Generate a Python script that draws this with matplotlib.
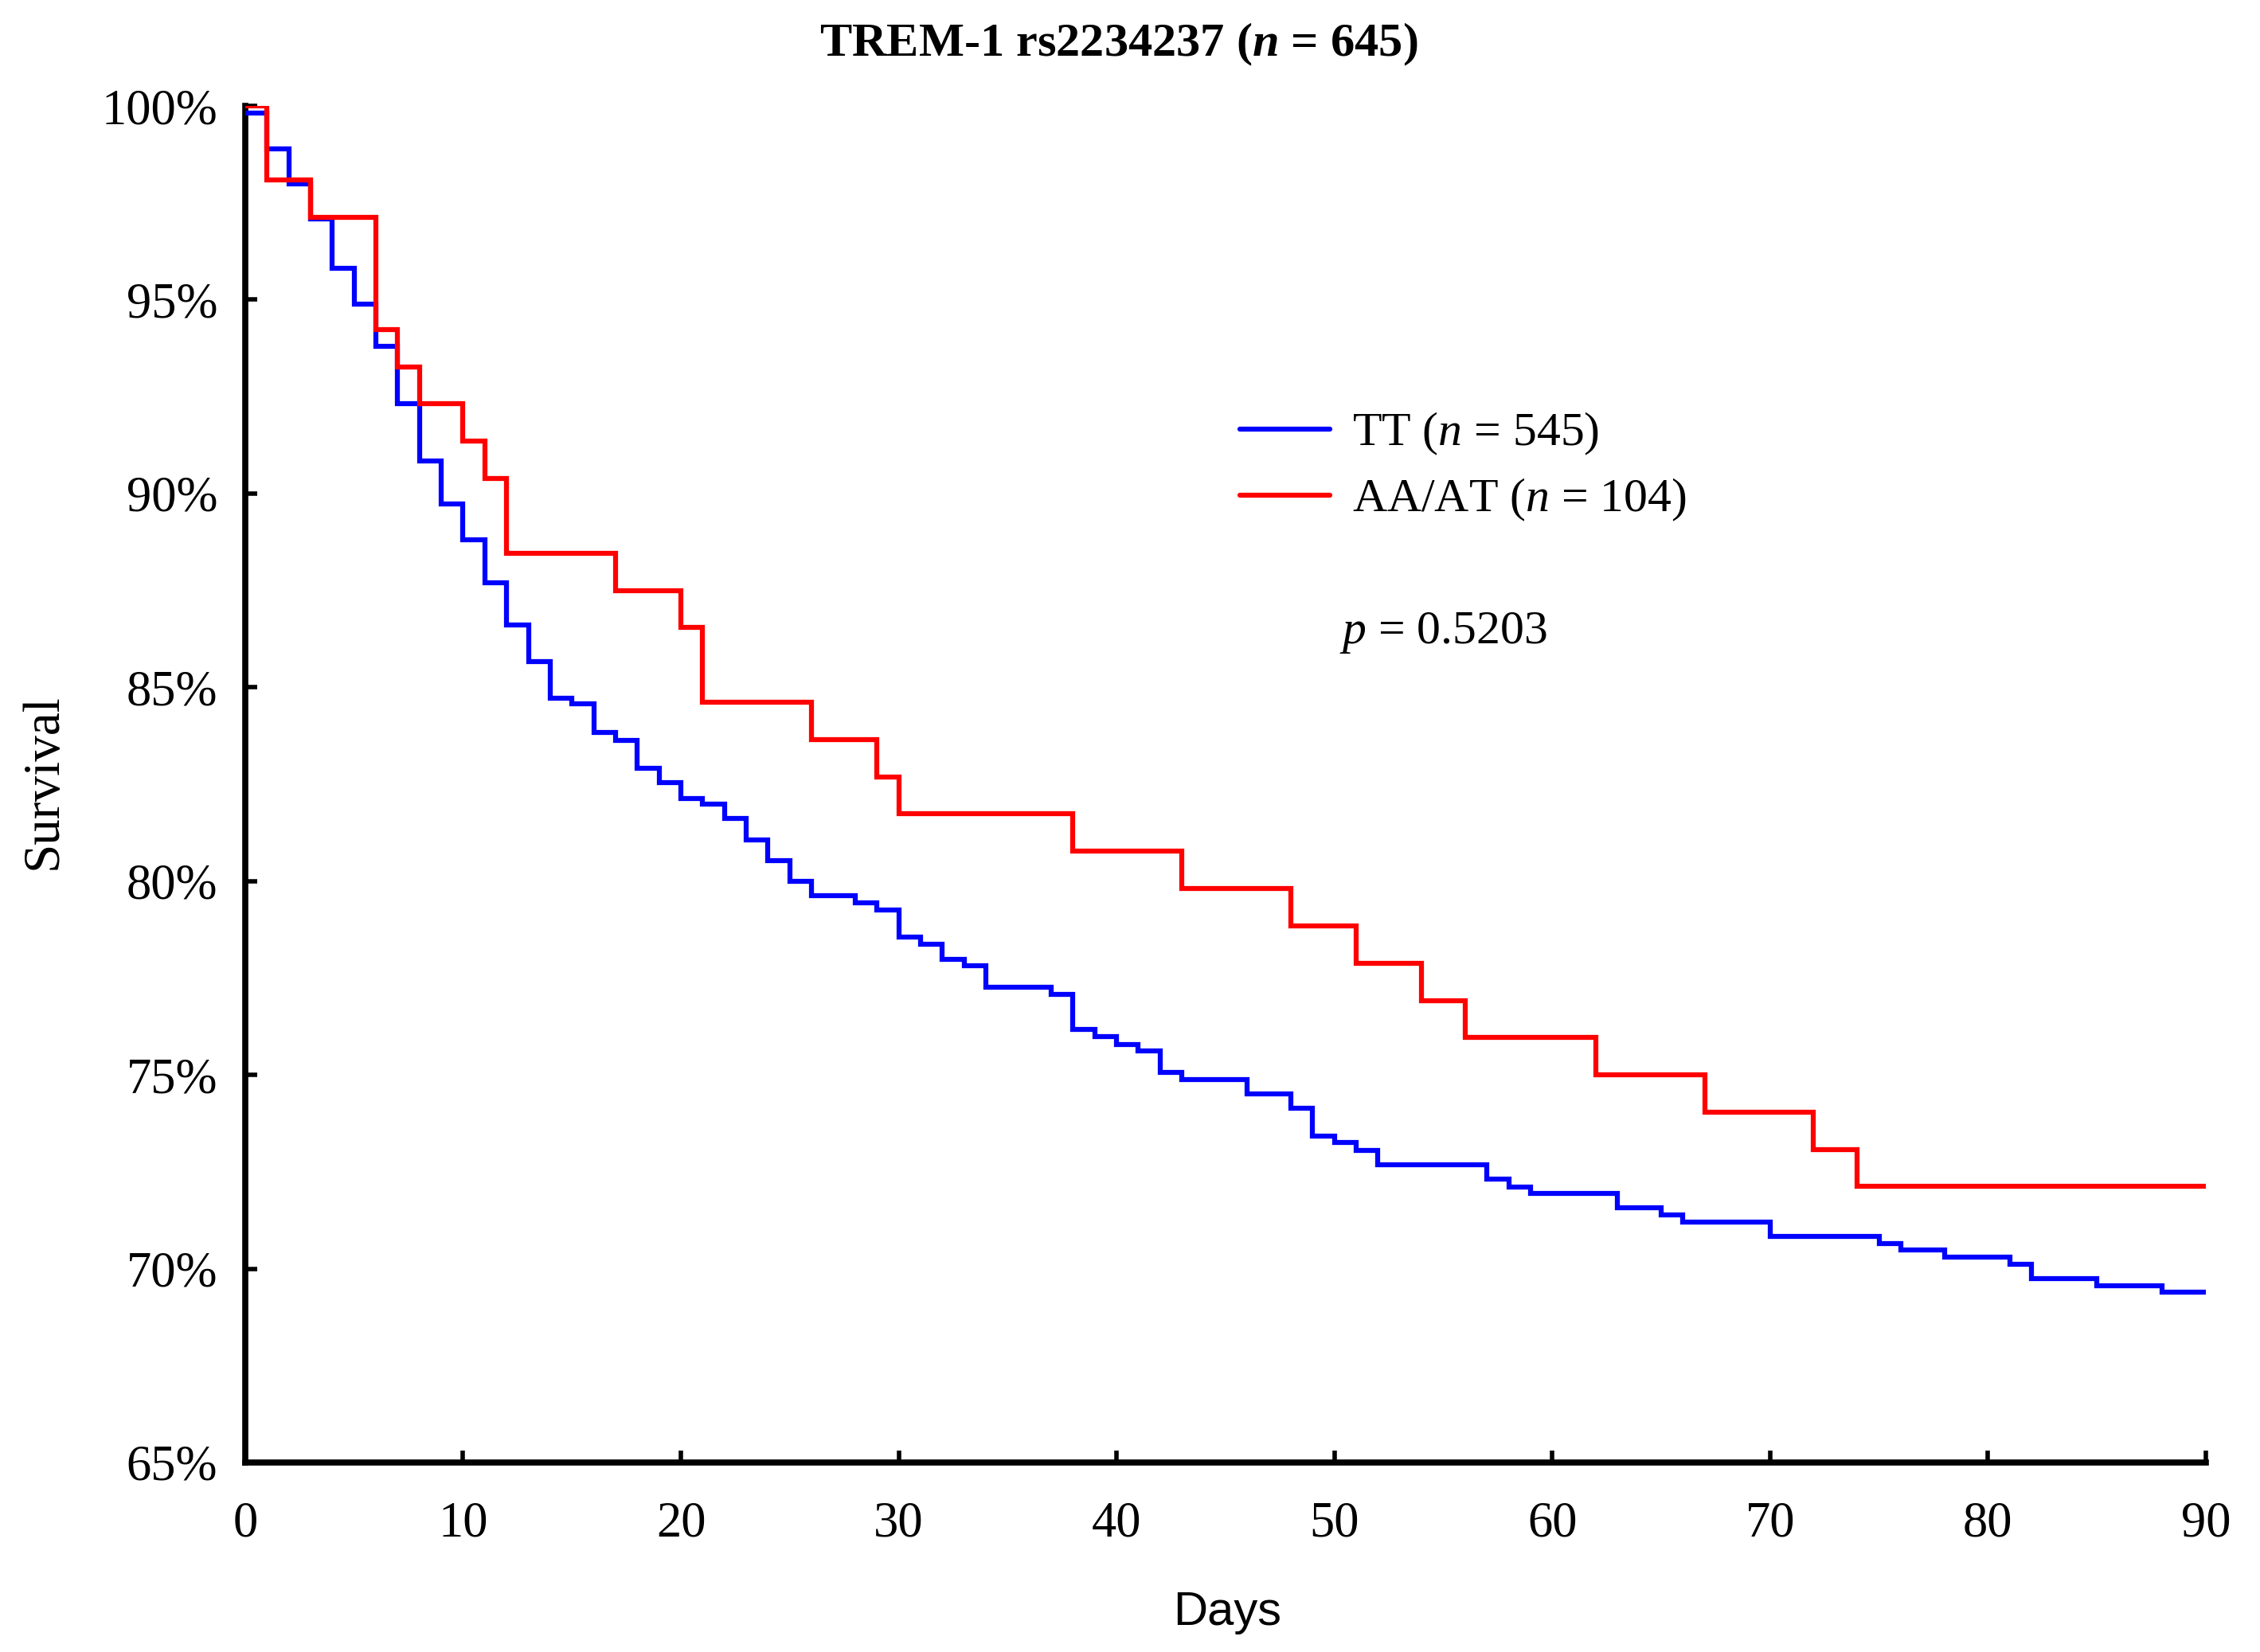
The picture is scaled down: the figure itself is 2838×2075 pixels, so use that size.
import matplotlib
matplotlib.use("Agg")
import matplotlib.pyplot as plt
from matplotlib.ticker import FuncFormatter

# ---- data ----
tt_days = [0, 1, 2, 3, 4, 5, 6, 7, 8, 9, 10, 11, 12, 13, 14, 15, 16, 17, 18, 19,
           20, 21, 22, 23, 24, 25, 26, 28, 29, 30, 31, 32, 33, 34, 37, 38, 39, 40,
           41, 42, 43, 46, 48, 49, 50, 51, 52, 57, 58, 59, 63, 65, 66, 70, 75, 76,
           78, 81, 82, 85, 88]
tt_surv = [99.82, 98.90, 97.98, 97.09, 95.80, 94.88, 93.79, 92.31, 90.83, 89.72,
           88.80, 87.70, 86.61, 85.67, 84.72, 84.58, 83.83, 83.64, 82.91, 82.54,
           82.14, 81.99, 81.62, 81.07, 80.52, 79.99, 79.62, 79.43, 79.26, 78.55,
           78.37, 77.99, 77.81, 77.27, 77.08, 76.17, 75.98, 75.79, 75.61, 75.07,
           74.88, 74.52, 74.14, 73.42, 73.25, 73.05, 72.68, 72.31, 72.11, 71.94,
           71.57, 71.38, 71.20, 70.84, 70.65, 70.48, 70.29, 70.11, 69.74, 69.56,
           69.39]
aa_days = [0, 1, 3, 6, 7, 8, 10, 11, 12, 17, 20, 21, 26, 29, 30, 38, 43, 48, 51,
           54, 56, 62, 67, 72, 74]
aa_surv = [100.0, 98.08, 97.12, 94.23, 93.27, 92.31, 91.35, 90.38, 88.46, 87.50,
           86.54, 84.62, 83.65, 82.69, 81.73, 80.77, 79.81, 78.85, 77.88, 76.92,
           75.96, 75.00, 74.04, 73.08, 72.12]
end_day = 90
x_ticks = list(range(0, 91, 10))
y_ticks = list(range(65, 101, 5))
tt_label = "TT ($n$ = 545)"
aa_label = "AA/AT ($n$ = 104)"
title_text = "TREM-1 rs2234237 ($\\mathbfit{n}$ = 645)"
p_text = "$p$ = 0.5203"

# ---- style ----
plt.rcParams['font.family'] = ['Liberation Serif', 'DejaVu Serif']
plt.rcParams['mathtext.fontset'] = 'custom'
plt.rcParams['mathtext.rm'] = 'Liberation Serif'
plt.rcParams['mathtext.it'] = 'Liberation Serif:italic'
plt.rcParams['mathtext.bf'] = 'Liberation Serif:bold'
plt.rcParams['mathtext.bfit'] = 'Liberation Serif:italic:bold'

fig = plt.figure(figsize=(28.38, 20.75), dpi=100)
ax = fig.add_axes([0.1085, 0.1147, 0.8675, 0.8212])

lw = 4.5
ax.step(tt_days + [end_day], tt_surv + [tt_surv[-1]], where='post',
        color='#0000ff', lw=lw, solid_capstyle='round', solid_joinstyle='miter',
        label=tt_label, zorder=3)
ax.step(aa_days + [end_day], aa_surv + [aa_surv[-1]], where='post',
        color='#ff0000', lw=lw, solid_capstyle='round', solid_joinstyle='miter',
        label=aa_label, zorder=4)

ax.set_xlim(0, 90)
ax.set_ylim(65, 100)
ax.set_xticks(x_ticks)
ax.set_yticks(y_ticks)
ax.yaxis.set_major_formatter(FuncFormatter(lambda v, pos: f"{int(round(v))}%"))

for s in ['top', 'right']:
    ax.spines[s].set_visible(False)
for s in ['left', 'bottom']:
    ax.spines[s].set_linewidth(5.5)
    ax.spines[s].set_capstyle('projecting')

ax.tick_params(axis='both', direction='in', length=11, width=4, labelsize=45)
ax.tick_params(axis='y', pad=25)
ax.tick_params(axis='x', pad=35)

leg = ax.legend(loc='upper left', bbox_to_anchor=(0.5486, 0.7513),
                bbox_transform=fig.transFigure, frameon=False, fontsize=43,
                handlelength=1.89, handletextpad=0.47, labelspacing=0.41,
                borderpad=0, borderaxespad=0)
for h in leg.get_lines():
    h.set_linewidth(lw)

fig.text(0.5927, 0.6106, p_text, fontsize=43, ha='left', va='baseline')
fig.text(0.4949, 0.9663, title_text, fontsize=43.5, fontweight='bold',
         ha='center', va='baseline')
fig.text(0.543, 0.0163, "Days", fontsize=43, ha='center', va='baseline',
         family=['Liberation Sans', 'DejaVu Sans'])
fig.text(0.0194, 0.527, "Survival", fontsize=47, ha='center', va='center',
         rotation=90)

fig.savefig("out.png", dpi=100, facecolor='white')
